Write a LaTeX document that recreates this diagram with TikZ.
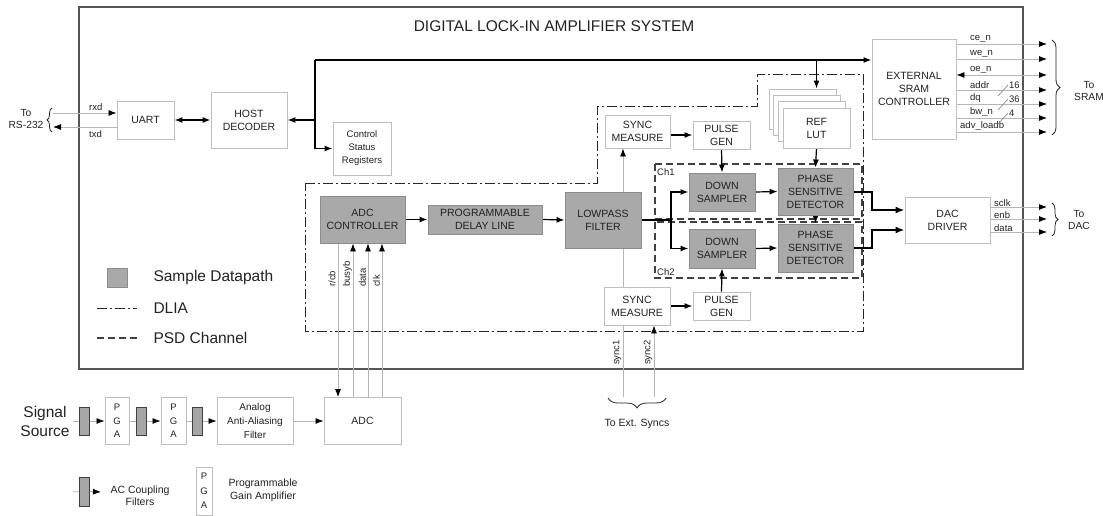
\documentclass[tikz,border=0pt]{standalone}
\usepackage{fontspec}
\setmainfont{Liberation Sans}
\usetikzlibrary{arrows.meta,backgrounds,decorations.pathreplacing,calc}
\definecolor{bgray}{HTML}{BEBEBE}
\definecolor{dgray}{HTML}{A9A9A9}
\definecolor{dborder}{HTML}{8C8C8C}
\definecolor{sgray}{HTML}{B6B6B6}
\definecolor{framec}{HTML}{555555}
\definecolor{txt}{HTML}{222222}
\newcommand\myboxf{\fontsize{10.5}{13}\selectfont}
\newcommand\mysmf{\fontsize{9.5}{13}\selectfont}
\newcommand\mysigf{\fontsize{9.5}{11}\selectfont}
\newcommand\mytof{\fontsize{10.3}{12.5}\selectfont}
\newcommand\mybigf{\fontsize{15.5}{19}\selectfont}
\newcommand\mypgaf{\fontsize{9.5}{13.5}\selectfont}
\begin{document}
\begin{tikzpicture}[x=1pt,y=-1pt,
  box/.style={draw=bgray,fill=white,line width=0.9pt,align=center,inner sep=0pt,font=\myboxf,text=txt},
  gbox/.style={box,draw=dborder,fill=dgray},
  acap/.style={draw=black!75,fill=gray!70,line width=0.9pt,minimum width=10pt,minimum height=28pt,inner sep=0pt},
  sig/.style={draw=sgray,line width=0.8pt},
  dp/.style={draw=black,line width=1.2pt},
  thk/.style={draw=black,line width=2pt},
  arrs/.style={-{Latex[length=8pt,width=6pt,color=black]}},
  darrs/.style={{Latex[length=8pt,width=6pt,color=black]}-{Latex[length=8pt,width=6pt,color=black]}},
  dlia/.style={draw=black!85,line width=1pt,dash pattern=on 10pt off 3pt on 2pt off 3pt},
  chd/.style={draw=black!75,line width=1.2pt,dash pattern=on 7pt off 4pt},
  lbl/.style={font=\mysigf,text=txt,inner sep=0pt},
  brc/.style={draw=black!85,line width=0.8pt,decorate},
]
\useasboundingbox (0,0) rectangle (1103,516);

% ---------- title ----------
\node[font=\mybigf,text=txt] (title) at (554,26) {DIGITAL LOCK-IN AMPLIFIER SYSTEM};

% ---------- nodes ----------
\node[box,minimum width=57,minimum height=38] (uart) at (145.5,120) {UART};
\node[box,minimum width=76,minimum height=56] (host) at (249,120) {HOST\\DECODER};
\node[box,minimum width=58,minimum height=53,font=\mysmf] (csr) at (362,148.5) {Control\\Status\\Registers};
\node[box,minimum width=84,minimum height=100] (sram) at (914,89) {EXTERNAL\\SRAM\\CONTROLLER};

\node[box,minimum width=65,minimum height=33] (smt) at (637.5,131.5) {SYNC\\MEASURE};
\node[box,minimum width=57,minimum height=28] (pgt) at (721.5,135) {PULSE\\GEN};
\foreach \k/\nm in {3/lutc,2/lutb,1/luta}
  \node[box,minimum width=67,minimum height=40] (\nm) at (816.5-4.67*\k,128-6.33*\k) {};
\node[box,minimum width=67,minimum height=40] (lut) at (816.5,128) {REF\\LUT};

\node[gbox,minimum width=85,minimum height=47] (adcc) at (362.5,219.5) {ADC\\CONTROLLER};
\node[gbox,minimum width=114,minimum height=29] (pdl) at (485,219.5) {PROGRAMMABLE\\DELAY LINE};
\node[gbox,minimum width=76,minimum height=56] (lpf) at (603,220) {LOWPASS\\FILTER};
\node[gbox,minimum width=66,minimum height=38] (ds1) at (722,192) {DOWN\\SAMPLER};
\node[gbox,minimum width=66,minimum height=39] (ds2) at (722,248.5) {DOWN\\SAMPLER};
\node[gbox,minimum width=75,minimum height=47] (psd1) at (815.5,191.5) {PHASE\\SENSITIVE\\DETECTOR};
\node[gbox,minimum width=75,minimum height=48] (psd2) at (815.5,248) {PHASE\\SENSITIVE\\DETECTOR};
\node[box,minimum width=85,minimum height=46] (dac) at (947.5,220) {DAC\\DRIVER};
\node[box,minimum width=66,minimum height=38] (smb) at (637,306) {SYNC\\MEASURE};
\node[box,minimum width=57,minimum height=28] (pgb) at (721.5,306) {PULSE\\GEN};

\node[lbl,anchor=west] (ch1) at (657,172) {Ch1};
\node[lbl,anchor=west] (ch2) at (657,272) {Ch2};

% lower chain
\node[box,minimum width=77,minimum height=47] (adc) at (362.5,421) {ADC};
\node[acap] (cap1) at (84,421) {};
\node[box,minimum width=24,minimum height=47,font=\mypgaf] (pga1) at (117,421) {P\\G\\A};
\node[acap] (cap2) at (141,421) {};
\node[box,minimum width=25,minimum height=47,font=\mypgaf] (pga2) at (173.5,421) {P\\G\\A};
\node[acap] (cap3) at (197.5,421) {};
\node[box,minimum width=76,minimum height=47,font=\fontsize{10}{14}\selectfont] (aaf) at (255,421) {Analog\\Anti-Aliasing\\Filter};
\node[font=\mybigf,text=txt,align=center] (src) at (45,421) {Signal\\Source};

% legends
\node[gbox,minimum width=20,minimum height=19] (lsq) at (117,277.5) {};
\node[font=\mybigf,text=txt,anchor=west] (lsd) at (150,277.5) {Sample Datapath};
\node[font=\mybigf,text=txt,anchor=west] (ldl) at (150,308) {DLIA};
\node[font=\mybigf,text=txt,anchor=west] (lpc) at (150,338) {PSD Channel};
\node[acap,minimum height=29] (lcap) at (84,491.5) {};
\node[font=\fontsize{10.5}{12}\selectfont,text=txt,align=center] (lcapt) at (140,496) {AC Coupling\\Filters};
\node[box,minimum width=16,minimum height=48,font=\fontsize{9.5}{14.5}\selectfont] (lpga) at (204,491) {P\\G\\A};
\node[font=\fontsize{10.5}{12.5}\selectfont,text=txt,align=center] (lpgat) at (263,490.5) {Programmable\\Gain Amplifier};

% text labels
\node[lbl,anchor=south west] (lrxd) at (89,111) {rxd};
\node[lbl,anchor=north west] (ltxd) at (89,130) {txd};
\node[font=\mytof,text=txt,align=center] (lrs) at (26,119) {To\\RS-232};
\node[font=\mytof,text=txt,align=center] (lsr) at (1089,91) {To\\SRAM};
\node[font=\mytof,text=txt,align=center] (ldc) at (1079,220) {To\\DAC};
\node[font=\fontsize{10.5}{12}\selectfont,text=txt] (lext) at (637,424) {To Ext. Syncs};
\node[lbl,rotate=90,anchor=west] (lrcb) at (332,287) {r/cb};
\node[lbl,rotate=90,anchor=west] (lbsy) at (347.5,287) {busyb};
\node[lbl,rotate=90,anchor=west] (ldat) at (362.5,287) {data};
\node[lbl,rotate=90,anchor=west] (lclk) at (376.5,287) {clk};
\node[lbl,rotate=90,anchor=west] (ls1) at (617,365) {sync1};
\node[lbl,rotate=90,anchor=west] (ls2) at (648,365) {sync2};

% ---------- background drawing ----------
\begin{pgfonlayer}{background}
\draw[draw=framec,line width=1.6pt] (79,7) rectangle (1023,369);
\draw[dlia] (305,183) -- (597,183) -- (597,107) -- (757,107) -- (757,75) -- (863,75) -- (863,331) -- (305,331) -- cycle;
\draw[chd] (655,164) rectangle (862,219);
\draw[chd] (655,222) rectangle (862,278);

% host bus
\coordinate (bt) at (315,60);
\draw[dp,arrs] (bt) |- (csr.west);
\draw[dp,arrs] (bt) -- (bt -| sram.west);
\draw[dp,arrs] (bt |- host.east) -- (host.east);
\draw[dp,arrs] (lut.north |- bt) -- (lut.north |- lutc.north);
\draw[dp,darrs] (uart.east) -- (host.west);

% RS-232
\coordinate (rxe) at (53,113);
\coordinate (txe) at (53,127);
\draw[sig,arrs] (rxe) -- (uart.west |- rxe);
\draw[sig,arrs] (uart.west |- txe) -- (txe);
\draw[brc,decoration={brace,amplitude=5pt}] (52,132) -- (52,108);

% datapath
\draw[dp,arrs] (adcc.east) -- (pdl.west);
\draw[dp,arrs] (pdl.east) -- (lpf.west);
\coordinate (fj) at (671,220);
\draw[dp] (lpf.east) -- (fj);
\draw[dp,arrs] (fj) |- (ds1.west);
\draw[dp,arrs] (fj) |- (ds2.west);
\draw[dp,arrs] (ds1.east) -- (psd1.west);
\draw[dp,arrs] (ds2.east) -- (psd2.west);
\draw[dp,arrs] (smt.east |- pgt.west) -- (pgt.west);
\draw[dp,arrs] (pgt.south) -- (ds1.north);
\draw[dp,arrs] (smb.east |- pgb.west) -- (pgb.west);
\draw[dp,arrs] (pgb.north) -- (ds2.south);
\draw[dp,arrs] (lut.south) -- (psd1.north);
\draw[dp,arrs] (psd1.south) -- (psd2.north);
\draw[thk,-{Latex[length=9pt,width=7pt]}] (psd1.east) -- ++(19,0) |- ([yshift=10pt]dac.west);
\draw[thk,-{Latex[length=9pt,width=7pt]}] (psd2.east) -- ++(19,0) |- ([yshift=-10pt]dac.west);

% ADC interface
\draw[sig,arrs] ([xshift=-24.5pt]adcc.south) -- ([xshift=-24.5pt]adc.north);
\draw[sig,arrs] ([xshift=-9.5pt]adc.north) -- ([xshift=-9.5pt]adcc.south);
\draw[sig,arrs] ([xshift=5.5pt]adc.north) -- ([xshift=5.5pt]adcc.south);
\draw[sig,arrs] ([xshift=19.5pt]adc.north) -- ([xshift=19.5pt]adcc.south);

% syncs
\coordinate (s1) at (623,397);
\coordinate (s2) at (654,397);
\draw[sig,arrs] (s1) -- (s1 |- smt.south);
\draw[sig,arrs] (s2) -- (s2 |- smb.south);
\draw[brc,decoration={brace,amplitude=10pt}] (666,398) -- (608,398);

% SRAM signals
\foreach \yy/\lab/\nn in {44/ce\_n/a,59/we\_n/b,90/addr/d,104/dq/e,118/bw\_n/f}{
  \coordinate (so\nn) at (1047,\yy);
  \draw[sig,arrs] (sram.east |- so\nn) -- (so\nn);
  \node[lbl,anchor=south west] (l\nn) at (970,\yy-1.5) {\lab};
}
\coordinate (soc) at (1047,75);
\draw[sig,darrs] (sram.east |- soc) -- (soc);
\node[lbl,anchor=south west] (lc) at (970,73.5) {oe\_n};
\coordinate (sog) at (1047,132);
\draw[sig,arrs] (sram.east |- sog) -- (sog);
\node[lbl,anchor=south west] (lg) at (960,130.5) {adv\_loadb};
\foreach \yy/\w/\nn in {90/16/d,104/36/e,118/4/f}{
  \draw[draw=gray,line width=0.6pt] (998,\yy+6) -- (1008,\yy-5);
  \node[lbl,anchor=south west] (w\nn) at (1009,\yy-1.5) {\w};
}
\draw[brc,decoration={brace,amplitude=8pt}] (1052,40) -- (1052,135);

% DAC signals
\foreach \yy/\lab/\nn in {207/sclk/a,219/enb/b,232/data/c}{
  \coordinate (do\nn) at (1047,\yy);
  \draw[sig,arrs] (dac.east |- do\nn) -- (do\nn);
  \node[lbl,anchor=south west] (dl\nn) at (994,\yy-0.5) {\lab};
}
\draw[brc,decoration={brace,amplitude=6pt}] (1052,203) -- (1052,236);

% lower chain
\coordinate (ssrc) at (73,421);
\draw[sig] (ssrc) -- (cap1.west);
\draw[sig,arrs] (cap1.east) -- (pga1.west);
\draw[sig] (pga1.east) -- (cap2.west);
\draw[sig,arrs] (cap2.east) -- (pga2.west);
\draw[sig] (pga2.east) -- (cap3.west);
\draw[sig,arrs] (cap3.east) -- (aaf.west);
\draw[sig,arrs] (aaf.east) -- (adc.west);

% legends
\coordinate (lg1) at (97,308);
\coordinate (lg2) at (137,308);
\coordinate (lg3) at (97,338);
\coordinate (lg4) at (137,338);
\draw[dlia] (lg1) -- (lg2);
\draw[chd] (lg3) -- (lg4);
\coordinate (lcs) at (73,492);
\coordinate (lce) at (101,492);
\draw[sig] (lcs) -- (lcap.west);
\draw[sig,arrs] (lcap.east) -- (lce);
\end{pgfonlayer}
\end{tikzpicture}
\end{document}
